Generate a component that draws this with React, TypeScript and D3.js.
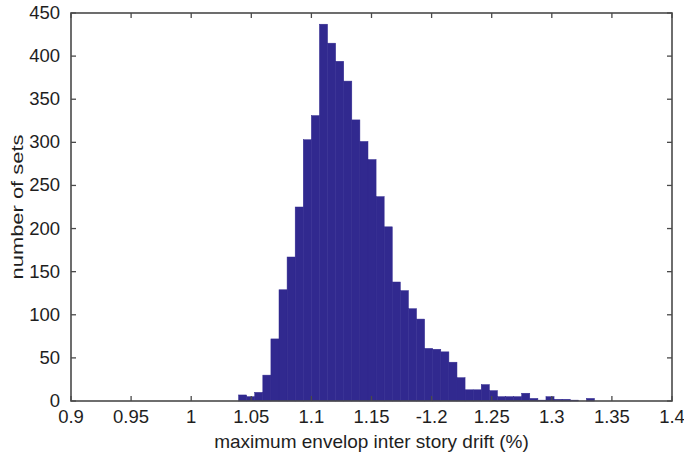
import React from "react";
import * as d3 from "d3";

// Histogram data
const binStart = 1.0394;
const binWidth = 0.00673;
const counts = [
  7, 5, 10, 30, 72, 129, 167, 225, 303, 331,
  437, 415, 394, 371, 326, 301, 280, 237, 202, 138,
  128, 107, 95, 61, 60, 57, 45, 27, 13, 13,
  19, 12, 5, 5, 5, 9, 3, 1, 5, 2,
  2, 1, 0, 3,
];
const xTicks = [0.9, 0.95, 1, 1.05, 1.1, 1.15, 1.2, 1.25, 1.3, 1.35, 1.4];
const xTickLabels = ["0.9", "0.95", "1", "1.05", "1.1", "1.15", "-1.2", "1.25", "1.3", "1.35", "1.4"];
const yTicks = [0, 50, 100, 150, 200, 250, 300, 350, 400, 450];
const xLabel = "maximum envelop inter story drift (%)";
const yLabel = "number of sets";

const W = 684;
const H = 454;
const L = 71, R = 672, T = 13, B = 401;

export default function App() {
  const x = d3.scaleLinear().domain([0.9, 1.4]).range([L, R]);
  const y = d3.scaleLinear().domain([0, 450]).range([B, T]);
  const font = "Arial, 'Liberation Sans', sans-serif";
  const axisColor = "#4a4a4a";
  const barFill = "#31298f";
  const textColor = "#1e1e1e";
  const tl = 5;

  return (
    <div style={{ position: "absolute", left: 0, top: 0 }}>
      <svg width={W} height={H} style={{ display: "block", background: "#fff" }}>
        {counts.map((c, i) => {
          const x0 = x(binStart + i * binWidth);
          const x1 = x(binStart + (i + 1) * binWidth);
          if (c <= 0) return null;
          return (
            <rect
              key={i}
              x={x0}
              y={y(c)}
              width={x1 - x0}
              height={y(0) - y(c)}
              fill={barFill}
              stroke={barFill}
              strokeWidth={0.5}
            />
          );
        })}
        {/* box */}
        <rect x={L} y={T} width={R - L} height={B - T} fill="none" stroke={axisColor} strokeWidth={1.6} />
        {/* x ticks */}
        {xTicks.map((t, i) => (
          <g key={"x" + i}>
            <line x1={x(t)} x2={x(t)} y1={B} y2={B - tl} stroke={axisColor} strokeWidth={1.3} />
            <line x1={x(t)} x2={x(t)} y1={T} y2={T + tl} stroke={axisColor} strokeWidth={1.3} />
            <text x={x(t)} y={423} textAnchor="middle" fontFamily={font} fontSize={18.5} fill={textColor}>
              {xTickLabels[i]}
            </text>
          </g>
        ))}
        {/* y ticks */}
        {yTicks.map((t, i) => (
          <g key={"y" + i}>
            <line x1={L} x2={L + tl} y1={y(t)} y2={y(t)} stroke={axisColor} strokeWidth={1.3} />
            <line x1={R} x2={R - tl} y1={y(t)} y2={y(t)} stroke={axisColor} strokeWidth={1.3} />
            <text x={60} y={y(t) + 6} textAnchor="end" fontFamily={font} fontSize={18.5} fill={textColor}>
              {t}
            </text>
          </g>
        ))}
        <text x={(L + R) / 2} y={448} textAnchor="middle" fontFamily={font} fontSize={19} fill={textColor}>
          {xLabel}
        </text>
        <text
          transform={`translate(23, ${(T + B) / 2}) rotate(-90)`}
          textAnchor="middle"
          fontFamily={font}
          fontSize={17}
          fill={textColor}
          textLength={145}
          lengthAdjust="spacingAndGlyphs"
        >
          {yLabel}
        </text>
      </svg>
    </div>
  );
}
